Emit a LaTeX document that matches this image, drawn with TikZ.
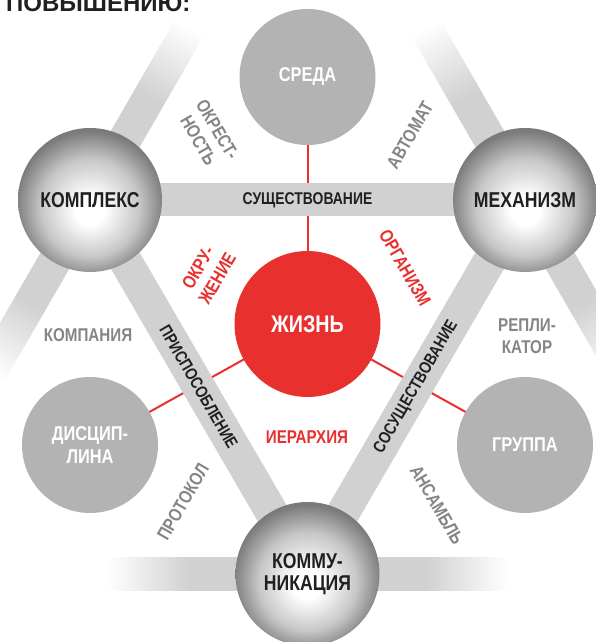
\documentclass[tikz,border=0pt]{standalone}
\usepackage{fontspec}
\setmainfont{Liberation Sans}
\newfontfamily\cf[FakeStretch=0.82]{Liberation Sans}
\definecolor{barGray}{HTML}{D1D1D1}
\definecolor{flatGray}{HTML}{B3B3B3}
\definecolor{lblGray}{HTML}{858585}
\definecolor{zred}{HTML}{E8302E}
\definecolor{txtBlack}{HTML}{231F20}
\pgfdeclareradialshading{sph}{\pgfpoint{0bp}{-4bp}}{color(0bp)=(white); color(5bp)=(white); color(17bp)=(black!22); color(26bp)=(black!52); color(50bp)=(black!52)}
\pgfdeclarehorizontalshading{fadebar}{100bp}{color(0bp)=(barGray); color(46bp)=(barGray); color(75bp)=(white); color(100bp)=(white)}
\pgfdeclarelayer{bg}
\pgfsetlayers{bg,main}
\newcommand\fadebarAt[2]{%
  \begin{scope}[transform canvas={shift={(#1)},rotate=#2}]
    \shade[shading=fadebar] (60,-16.5) rectangle (200,16.5);
  \end{scope}}
\tikzset{
  sphere/.style={circle, minimum size=144pt, inner sep=0pt, shade, shading=sph, text=txtBlack, align=center,
    font=\cf\bfseries\fontsize{21.5}{22}\selectfont},
  flat/.style={circle, minimum size=136pt, inner sep=0pt, fill=flatGray, text=white, align=center,
    font=\cf\bfseries\fontsize{20}{23.5}\selectfont},
  life/.style={circle, minimum size=146pt, inner sep=0pt, fill=zred, text=white,
    font=\cf\bfseries\fontsize{24}{24}\selectfont},
  bar/.style={barGray, line width=33pt},
  redline/.style={zred, line width=2pt},
  barlbl/.style={inner sep=0pt, text=txtBlack, font=\cf\bfseries\fontsize{17}{17}\selectfont},
  glbl/.style={inner sep=0pt, text=lblGray, align=center, font=\cf\bfseries\fontsize{18.5}{22}\selectfont},
  rlbl/.style={inner sep=0pt, text=zred, align=center, font=\cf\bfseries\fontsize{18.5}{22}\selectfont},
}
\begin{document}
\begin{tikzpicture}[x=1pt,y=1pt]
\useasboundingbox (0,0) rectangle (596,642);
% nodes
\node[sphere] (K) at (90,442) {КОМПЛЕКС};
\node[sphere] (M) at (525,442) {МЕХАНИЗМ};
\node[sphere] (C) at (307.5,68) {КОММУ-\\НИКАЦИЯ};
\node[flat] (S) at (307.5,565) {СРЕДА};
\node[flat] (D) at (90,197) {ДИСЦИП-\\ЛИНА};
\node[flat] (G) at (525,197) {ГРУППА};
\node[life] (Z) at (307.5,318) {ЖИЗНЬ};
% labels
\node[anchor=base west, inner sep=0pt, text=txtBlack, font=\bfseries\fontsize{24}{24}\selectfont] (title) at (6,630.5) {ПОВЫШЕНИЮ:};
\node[glbl, rotate=-60] (okr) at (208,507) {ОКРЕСТ-\\НОСТЬ};
\node[glbl, rotate=60] (avt) at (410,507) {АВТОМАТ};
\node[rlbl, rotate=60] (okru) at (207.5,369) {ОКРУ-\\ЖЕНИЕ};
\node[rlbl, rotate=-60] (org) at (405,374) {ОРГАНИЗМ};
\node[glbl] (komp) at (88,307) {КОМПАНИЯ};
\node[glbl] (repl) at (527,306) {РЕПЛИ-\\КАТОР};
\node[rlbl] (ier) at (307,205) {ИЕРАРХИЯ};
\node[glbl, rotate=60] (prot) at (183,140) {ПРОТОКОЛ};
\node[glbl, rotate=-60] (ans) at (437,137) {АНСАМБЛЬ};
\begin{pgfonlayer}{bg}
  \fill[white] (0,0) rectangle (596,642);
  \fadebarAt{K}{60}
  \fadebarAt{K}{240}
  \fadebarAt{M}{120}
  \fadebarAt{M}{-60}
  \fadebarAt{C}{180}
  \fadebarAt{C}{0}
  \draw[redline] (Z.center) -- (S.center);
  \draw[redline] (Z.center) -- (D.center);
  \draw[redline] (Z.center) -- (G.center);
  \draw[bar] (K.center) -- (M.center) node[midway, barlbl] (l1) {СУЩЕСТВОВАНИЕ};
  \draw[bar] (K.center) -- (C.center) node[midway, sloped, barlbl] (l2) {ПРИСПОСОБЛЕНИЕ};
  \draw[bar] (C.center) -- (M.center) node[midway, sloped, barlbl] (l3) {СОСУЩЕСТВОВАНИЕ};
\end{pgfonlayer}
\end{tikzpicture}
\end{document}
